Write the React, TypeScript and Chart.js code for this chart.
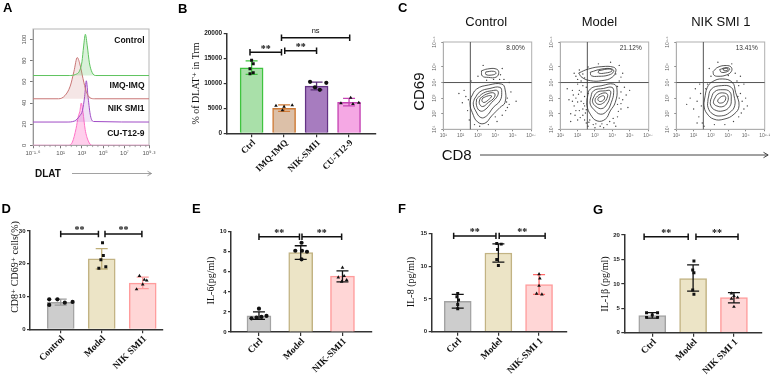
import React, { useEffect, useRef } from 'react';
import { Chart, registerables } from 'chart.js';
Chart.register(...registerables);

const SANS = '"Liberation Sans", Arial, Helvetica, sans-serif';
const SERIF = '"Liberation Serif", "Times New Roman", "DejaVu Serif", serif';
Chart.defaults.font.family = SANS;
Chart.defaults.color = '#222';

// ---------------- Panel A data (DLAT histograms, x in log10 units) ----------------
const aXTicks = [-1.6, 1, 3, 5, 7, 9.3];
const aXLabels = ['10⁻¹·⁶', '10¹', '10³', '10⁵', '10⁷', '10⁹·³'];
const aXMinor = [-1, -0.5, 0, 0.5, 1.5, 2, 2.5, 3.5, 4, 4.5, 5.5, 6, 6.5, 7.5, 8, 8.5, 9];
const aYTicks = [0, 20, 40, 60, 80, 100];
const aNames = ['Control', 'IMQ-IMQ', 'NIK SMI1', 'CU-T12-9'];
const aBaselines = [66, 44, 22, 0];
const aCtrlLog = [-1.6, 1.8, 2.4, 2.8, 3.0, 3.15, 3.32, 3.5, 3.7, 3.95, 4.3, 9.3];
const aCtrlVal = [66, 66, 67, 71, 79, 93, 105, 94, 78, 69, 66, 66];
const aImqLog = [-1.6, 0.8, 1.4, 1.9, 2.25, 2.56, 2.8, 3.1, 3.4, 3.75, 4.2, 9.3];
const aImqVal = [44, 44, 47, 56, 70, 83, 77, 63, 51, 45, 44, 44];
const aNikLog = [-1.6, 1.6, 2.3, 2.8, 3.05, 3.25, 3.41, 3.58, 3.8, 4.1, 9.3];
const aNikVal = [22, 22, 23, 28, 33, 46, 61, 45, 28, 22.5, 22];
const aCuLog = [-1.6, 1.7, 2.1, 2.45, 2.65, 2.8, 2.94, 3.1, 3.3, 3.6, 3.95, 9.3];
const aCuVal = [0, 0, 3, 16, 27, 32, 40, 31, 15, 4, 0, 0];

// ---------------- Panel B data ----------------
const bCategories = ['Ctrl', 'IMQ-IMQ', 'NIK-SMI1', 'CU-T12-9'];
const bMeans = [13100, 5000, 9450, 6200];
const bErrHigh = [14500, 5700, 10250, 7000];
const bErrLow = [11800, 4400, 8700, 5500];
const bPoints = [
  [14600, 13900, 12900, 12100, 11900],
  [5500, 5300, 5600, 4600],
  [10300, 10100, 9200, 8700],
  [7100, 6000, 5850, 6100],
];
const bOffsets = [
  [0, 0.05, -0.05, 0.05, -0.05],
  [-0.25, 0, 0.25, -0.05],
  [-0.2, 0.3, -0.05, 0.1],
  [0.05, -0.25, 0.12, 0.3],
];
const bBrackets: [number, number, number, string][] = [
  [-0.05, 0.92, 16200, '**'],
  [1.02, 2.0, 16500, '**'],
  [0.92, 3.02, 19100, 'ns'],
];

// ---------------- Panel C data (CD8 vs CD69, log10 units) ----------------
const cTitles = ['Control', 'Model', 'NIK SMI 1'];
const cPercents = ['8.00%', '21.12%', '13.41%'];
const cXTicks = [1, 2, 3, 4, 5, 6.1];
const cXLabels = ['10¹', '10²', '10³', '10⁴', '10⁵', '10⁶·¹'];
const cYTicks = [1, 2, 3, 4, 5, 6.6];
const cYLabels = ['10¹', '10²', '10³', '10⁴', '10⁵', '10⁶·⁶'];
const cGateX = 2.56;
const cGateY = 4.0;

const ctrlContours = [
  [[3.2, 4.75], [3.55, 4.87], [4.05, 4.87], [4.2, 4.65], [4.05, 4.35], [3.6, 4.33], [3.25, 4.42]],
  [[3.45, 4.68], [3.9, 4.72], [4.05, 4.6], [3.8, 4.48], [3.45, 4.52]],
  [[2.6, 3.04], [2.92, 3.58], [3.6, 3.84], [4.37, 3.9], [4.56, 3.58], [4.56, 2.72], [4.27, 2.4], [3.79, 1.86], [3.4, 1.39], [2.98, 1.47], [2.67, 2.08], [2.54, 2.61]],
  [[2.79, 2.94], [3.12, 3.41], [3.69, 3.62], [4.27, 3.69], [4.37, 3.37], [4.27, 2.83], [3.88, 2.4], [3.5, 1.86], [3.17, 1.75], [2.87, 2.18], [2.73, 2.61]],
  [[2.92, 2.94], [3.31, 3.32], [3.79, 3.47], [4.13, 3.47], [4.13, 3.15], [3.79, 2.72], [3.4, 2.25], [3.12, 2.18], [2.92, 2.51]],
  [[3.12, 2.98], [3.5, 3.26], [3.94, 3.32], [3.94, 3.04], [3.6, 2.72], [3.27, 2.46], [3.08, 2.66]],
  [[3.27, 3.0], [3.6, 3.15], [3.79, 3.13], [3.6, 2.89], [3.35, 2.72], [3.23, 2.83]],
];
const modelContours = [
  [[2.06, 4.61], [2.63, 4.87], [3.4, 5.02], [4.08, 4.98], [4.21, 4.76], [3.98, 4.33], [3.4, 4.12], [2.73, 4.12], [2.25, 4.33]],
  [[2.73, 4.66], [3.4, 4.87], [3.98, 4.87], [4.08, 4.7], [3.79, 4.48], [3.21, 4.4], [2.79, 4.44]],
  [[3.21, 4.76], [3.88, 4.87], [3.98, 4.74], [3.6, 4.61], [3.21, 4.61]],
  [[2.54, 2.94], [2.73, 3.58], [3.4, 3.8], [4.08, 3.9], [4.27, 3.58], [4.17, 2.72], [3.88, 2.18], [3.6, 1.65], [3.12, 1.54], [2.73, 1.97], [2.54, 2.51]],
  [[2.73, 2.94], [2.92, 3.47], [3.5, 3.62], [3.98, 3.69], [4.08, 3.37], [3.94, 2.72], [3.69, 2.18], [3.31, 1.97], [2.92, 2.29], [2.73, 2.61]],
  [[2.87, 2.94], [3.12, 3.37], [3.6, 3.47], [3.88, 3.47], [3.88, 3.15], [3.69, 2.61], [3.4, 2.33], [3.06, 2.46], [2.87, 2.72]],
  [[3.02, 2.98], [3.31, 3.26], [3.69, 3.3], [3.69, 2.98], [3.44, 2.66], [3.17, 2.61], [3.02, 2.78]],
  [[3.21, 3.04], [3.5, 3.15], [3.54, 2.94], [3.31, 2.78], [3.17, 2.89]],
];
const nikContours = [
  [[3.12, 4.7], [3.4, 4.98], [3.88, 5.09], [4.17, 4.98], [4.17, 4.7], [3.88, 4.48], [3.4, 4.4], [3.17, 4.48]],
  [[3.5, 4.83], [3.88, 4.96], [4.08, 4.87], [3.94, 4.7], [3.6, 4.66]],
  [[3.69, 4.87], [3.94, 4.91], [3.98, 4.81], [3.75, 4.76]],
  [[2.63, 2.94], [2.79, 3.69], [3.08, 4.05], [3.65, 4.23], [4.23, 4.01], [4.42, 3.37], [4.62, 2.51], [4.33, 1.97], [3.75, 1.65], [3.17, 1.65], [2.75, 2.04], [2.6, 2.51]],
  [[2.83, 2.94], [3.02, 3.58], [3.6, 3.8], [4.17, 3.69], [4.33, 3.15], [4.37, 2.51], [4.08, 2.08], [3.6, 1.86], [3.12, 1.97], [2.83, 2.4]],
  [[2.98, 2.89], [3.21, 3.41], [3.69, 3.54], [4.08, 3.41], [4.17, 2.94], [4.08, 2.46], [3.69, 2.18], [3.21, 2.25], [2.98, 2.55]],
  [[3.17, 2.89], [3.4, 3.26], [3.79, 3.32], [3.98, 3.15], [3.94, 2.72], [3.69, 2.46], [3.31, 2.51], [3.15, 2.68]],
  [[3.4, 2.89], [3.6, 3.1], [3.83, 3.1], [3.79, 2.8], [3.54, 2.68], [3.4, 2.76]],
];
const ctrlDots = [[2.3, 3.1], [2.4, 2.2], [2.5, 1.6], [2.2, 3.5], [4.7, 3.0], [4.8, 2.6], [4.6, 2.2], [4.4, 1.9], [4.9, 3.4], [4.5, 4.2], [3.0, 4.4], [4.4, 4.9], [3.1, 1.2], [3.6, 1.3], [4.1, 1.5], [4.0, 1.8], [2.1, 2.7], [4.8, 4.0], [1.9, 3.3], [3.3, 5.1], [5.2, 2.8], [2.6, 4.1], [3.9, 4.2], [4.3, 4.5], [2.8, 1.3], [4.7, 2.4], [4.65, 2.75], [2.45, 2.9], [3.5, 4.15], [4.25, 4.2]];
const modelDots = [[1.6, 2.0], [1.8, 2.5], [1.9, 3.0], [2.0, 1.6], [2.1, 2.2], [2.2, 2.8], [2.2, 3.4], [2.3, 1.9], [2.4, 2.5], [2.4, 3.1], [2.5, 1.4], [2.5, 3.7], [1.7, 3.5], [2.0, 3.9], [1.5, 2.9], [2.6, 1.2], [2.9, 1.3], [3.3, 1.2], [3.7, 1.3], [4.1, 1.4], [4.3, 1.8], [4.5, 2.3], [4.6, 2.9], [4.5, 3.4], [4.7, 3.7], [4.4, 4.1], [4.6, 4.6], [4.4, 5.1], [3.9, 5.3], [3.2, 5.2], [2.6, 5.0], [2.1, 4.8], [1.8, 4.6], [2.4, 4.3], [4.9, 2.4], [4.8, 3.2], [4.2, 1.2], [3.5, 1.1], [2.7, 1.6], [2.3, 2.3], [1.9, 2.2], [2.1, 3.5], [2.6, 3.3], [4.3, 2.6], [4.4, 3.0], [3.0, 1.1], [2.2, 4.1], [1.4, 3.6], [1.6, 1.5], [5.0, 3.5], [2.35, 2.65], [2.15, 1.75], [2.45, 2.05], [2.0, 2.75], [1.75, 3.2], [2.3, 3.8], [2.55, 4.0], [2.4, 1.6], [2.65, 1.45], [3.05, 1.35], [3.4, 1.35], [3.85, 1.5], [4.05, 1.7], [4.35, 2.15], [4.5, 2.65], [4.3, 3.75], [4.5, 4.35], [4.2, 4.55], [1.9, 4.4], [2.3, 4.55], [2.0, 4.2], [1.7, 2.8], [1.85, 1.9], [2.05, 3.25], [2.5, 2.25]];
const nikDots = [[2.0, 2.3], [2.2, 2.8], [2.3, 1.8], [2.4, 3.3], [1.8, 3.0], [2.5, 1.4], [2.1, 3.6], [4.7, 3.3], [4.8, 2.8], [4.9, 2.3], [4.6, 1.8], [4.5, 4.1], [4.6, 3.8], [4.4, 4.6], [4.2, 5.2], [3.0, 4.4], [2.8, 3.9], [3.2, 1.3], [3.8, 1.3], [4.3, 1.5], [5.0, 3.0], [2.6, 1.2], [4.7, 4.4], [3.4, 5.3], [2.9, 4.9], [1.6, 2.6], [2.2, 1.4], [5.1, 2.5], [4.9, 3.9], [2.7, 3.6], [4.75, 2.05], [4.55, 3.1], [2.45, 2.5], [2.35, 3.9], [4.0, 4.45]];

// ---------------- Panels D–G data ----------------
const dCategories = ['Control', 'Model', 'NIK SMI1'];
const dMeans = [8.2, 21.5, 14.1];
const dErrHigh = [9.2, 24.6, 15.9];
const dErrLow = [7.4, 18.4, 12.4];
const dPoints = [[9.16, 9.16, 7.43, 8.14, 8.34], [26.4, 22.5, 21.2, 18.6, 19.1], [16.3, 15.1, 14.9, 13.7, 12.2]];
const dOffsets = [[-0.28, -0.08, -0.28, 0.1, 0.29], [0.02, 0.04, -0.02, -0.07, 0.1], [-0.08, 0.04, 0.1, 0, -0.15]];
const dBrackets: [number, number, number, string][] = [[0, 0.92, 29.1, '**'], [1.08, 1.98, 29.1, '**']];

const eCategories = ['Ctrl', 'Model', 'NIK-SMI1'];
const eMeans = [1.62, 7.93, 5.57];
const eErrHigh = [2.0, 8.6, 6.1];
const eErrLow = [1.25, 7.25, 5.0];
const ePoints = [[2.33, 1.36, 1.43, 1.5, 1.6], [8.9, 8.1, 8.1, 8.0, 7.25], [6.41, 5.58, 5.45, 5.18, 5.02]];
const eOffsets = [[0, -0.18, -0.06, 0.06, 0.18], [0.02, -0.13, 0.03, 0.15, 0.02], [0, 0.04, -0.1, 0.1, -0.02]];
const eBrackets: [number, number, number, string][] = [[0, 0.97, 9.5, '**'], [1.03, 1.98, 9.5, '**']];

const fCategories = ['Ctrl', 'Model', 'NIK-SMI 1'];
const fMeans = [4.62, 12.0, 7.2];
const fErrHigh = [5.7, 13.4, 8.7];
const fErrLow = [3.6, 10.6, 5.7];
const fPoints = [[5.84, 5.33, 4.82, 4.16, 3.5], [13.45, 13.35, 12.54, 11.0, 10.1], [8.78, 8.12, 7.0, 5.79, 5.69]];
const fOffsets = [[0, -0.02, 0.02, 0, 0], [-0.04, 0.07, -0.02, -0.04, 0], [0, 0.02, 0, -0.06, 0.07]];
const fBrackets: [number, number, number, string][] = [[-0.1, 0.94, 14.6, '**'], [1.02, 2.15, 14.6, '**']];

const gCategories = ['Ctrl', 'Model', 'NIK SMI 1'];
const gMeans = [3.48, 11.1, 7.17];
const gErrHigh = [4.1, 13.9, 8.2];
const gErrLow = [3.0, 8.5, 6.1];
const gPoints = [[4.1, 4.1, 3.62, 3.14, 3.14], [14.68, 12.83, 12.29, 8.74, 7.85], [8.05, 7.5, 7.2, 6.96, 5.3]];
const gOffsets = [[-0.14, 0.13, 0, -0.14, 0.13], [0.02, -0.01, 0.02, -0.01, 0.02], [-0.06, 0, 0.09, -0.06, 0]];
const gBrackets: [number, number, number, string][] = [[-0.2, 0.88, 19.65, '**'], [1.07, 2.1, 19.65, '**']];

// ---------------- helpers ----------------
type Box = { left: number; top: number; width: number; height: number };
type Area = { l: number; t: number; r: number; b: number };
type Txt = { text: string; x: number; y: number; font: string; color?: string; align?: CanvasTextAlign; baseline?: CanvasTextBaseline; rotate?: number };

function fit(box: Box, area: Area) {
  return {
    padding: { top: area.t - box.top, right: box.left + box.width - area.r, left: 0, bottom: 0 },
    xAfterFit: (s: any) => { s.height = box.top + box.height - area.b; s.paddingLeft = 0; s.paddingRight = 0; },
    yAfterFit: (s: any) => { s.width = area.l - box.left; s.paddingTop = 0; s.paddingBottom = 0; },
  };
}

function textPlugin(box: Box, items: Txt[]) {
  return {
    id: 'texts',
    afterDraw(chart: any) {
      const ctx = chart.ctx;
      for (const t of items) {
        ctx.save();
        ctx.translate(t.x - box.left, t.y - box.top);
        if (t.rotate) ctx.rotate(t.rotate);
        ctx.font = t.font;
        ctx.fillStyle = t.color || '#111';
        ctx.textAlign = t.align || 'left';
        ctx.textBaseline = t.baseline || 'alphabetic';
        ctx.fillText(t.text, 0, 0);
        ctx.restore();
      }
    },
  };
}

function ChartCanvas({ box, build }: { box: Box; build: () => any }) {
  const ref = useRef<HTMLCanvasElement>(null);
  useEffect(() => {
    const chart = new Chart(ref.current as HTMLCanvasElement, build());
    return () => chart.destroy();
  }, []);
  return (
    <canvas
      ref={ref}
      width={box.width}
      height={box.height}
      style={{ position: 'absolute', left: box.left, top: box.top, width: box.width, height: box.height }}
    />
  );
}

// ---------------- Panel A ----------------
const aBox: Box = { left: 0, top: 20, width: 160, height: 146 };
const aArea: Area = { l: 33, t: 29, r: 149, b: 145.3 };
function buildA() {
  const f = fit(aBox, aArea);
  const series = [
    { x: aCtrlLog, y: aCtrlVal, c: '#5fc45f', fill: 'rgba(95,196,95,0.24)' },
    { x: aImqLog, y: aImqVal, c: '#c97676', fill: 'rgba(201,118,118,0.18)' },
    { x: aNikLog, y: aNikVal, c: '#a04cc6', fill: 'rgba(160,76,198,0.16)' },
    { x: aCuLog, y: aCuVal, c: '#ff72c6', fill: 'rgba(255,114,198,0.34)' },
  ];
  const labelY = [42.5, 87.5, 111.3, 135.7];
  return {
    type: 'line',
    data: {
      datasets: series.map((s, i) => ({
        data: s.x.map((v, k) => ({ x: v, y: s.y[k] })),
        borderColor: s.c,
        backgroundColor: s.fill,
        fill: { value: aBaselines[i] },
        borderWidth: 1,
        pointRadius: 0,
        cubicInterpolationMode: 'monotone',
      })),
    },
    options: {
      responsive: false,
      animation: false,
      layout: { padding: f.padding },
      plugins: { legend: { display: false }, tooltip: { enabled: false } },
      scales: {
        x: {
          type: 'linear', min: -1.6, max: 9.3, afterFit: f.xAfterFit,
          afterBuildTicks: (s: any) => { s.ticks = aXTicks.map((v) => ({ value: v })); },
          ticks: { callback: (_v: any, i: number) => aXLabels[i], autoSkip: false, maxRotation: 0, font: { size: 6 }, color: '#555', padding: 1 },
          grid: { drawOnChartArea: false, tickLength: 3, color: '#777' },
          border: { color: '#777' },
        },
        y: {
          type: 'linear', min: 0, max: 110, afterFit: f.yAfterFit,
          afterBuildTicks: (s: any) => { s.ticks = aYTicks.map((v) => ({ value: v })); },
          ticks: { minRotation: 90, maxRotation: 90, crossAlign: 'center', font: { size: 6 }, color: '#555', padding: 1 },
          grid: { drawOnChartArea: false, tickLength: 3, color: '#777' },
          border: { color: '#777' },
        },
      },
    },
    plugins: [
      {
        id: 'frameA',
        beforeDatasetsDraw(chart: any) {
          const { ctx, chartArea: a } = chart;
          ctx.save();
          ctx.strokeStyle = '#b5b5b5';
          ctx.lineWidth = 1;
          ctx.strokeRect(a.left, a.top, a.right - a.left, a.bottom - a.top);
          ctx.restore();
        },
        afterDraw(chart: any) {
          const { ctx, chartArea: a, scales: { x } } = chart;
          ctx.save();
          ctx.strokeStyle = '#888';
          ctx.lineWidth = 0.7;
          ctx.beginPath();
          for (const v of aXMinor) {
            const px = x.getPixelForValue(v);
            ctx.moveTo(px, a.bottom);
            ctx.lineTo(px, a.bottom + 1.8);
          }
          ctx.stroke();
          ctx.restore();
        },
      },
      textPlugin(aBox, aNames.map((n, i) => ({ text: n, x: 144.5, y: labelY[i], font: `bold 8.5px ${SANS}`, align: 'right' as CanvasTextAlign, color: '#111' }))),
    ],
  };
}

// ---------------- Bar charts (B, D, E, F, G) ----------------
type BarSpec = {
  box: Box; area: Area; cats: string[]; means: number[]; hi: number[]; lo: number[];
  points: number[][]; offsets: number[][]; xMin: number; xMax: number; yMax: number; yStep: number;
  fills: string[]; borders: string[]; errColors: string[]; markers: string[]; barWidth: number;
  brackets: [number, number, number, string][]; title: string; titleX: number; titleY: number;
  labelSize: number; tickSize: number;
};

function buildBar(o: BarSpec) {
  const f = fit(o.box, o.area);
  const AX = '#333';
  const datasets: any[] = [
    {
      type: 'bar',
      data: o.means.map((m, i) => ({ x: i, y: m })),
      backgroundColor: o.fills,
      borderColor: o.borders,
      borderWidth: 1.5,
      barThickness: o.barWidth,
      order: 10,
    },
  ];
  o.points.forEach((vals, g) => {
    datasets.push({
      type: 'scatter',
      data: vals.map((v, k) => ({ x: g + o.offsets[g][k], y: v })),
      pointStyle: o.markers[g],
      pointRadius: 2.1,
      backgroundColor: '#111',
      borderColor: '#111',
      borderWidth: 0,
      order: 0,
    });
  });
  const stats = {
    id: 'stats',
    afterDatasetDraw(chart: any, args: any) {
      if (args.index !== 0) return;
      const { ctx, scales: { x, y } } = chart;
      ctx.save();
      ctx.lineWidth = 1.3;
      o.means.forEach((_m, i) => {
        const px = x.getPixelForValue(i);
        const y1 = y.getPixelForValue(o.hi[i]);
        const y2 = y.getPixelForValue(o.lo[i]);
        const cw = 6;
        ctx.strokeStyle = o.errColors[i];
        ctx.beginPath();
        ctx.moveTo(px, y1); ctx.lineTo(px, y2);
        ctx.moveTo(px - cw, y1); ctx.lineTo(px + cw, y1);
        ctx.moveTo(px - cw, y2); ctx.lineTo(px + cw, y2);
        ctx.stroke();
      });
      ctx.restore();
    },
    afterDraw(chart: any) {
      const { ctx, scales: { x, y }, chartArea } = chart;
      ctx.save();
      for (const [a, b, v, lab] of o.brackets) {
        const x1 = x.getPixelForValue(a);
        const x2 = x.getPixelForValue(b);
        const py = y.getPixelForValue(v);
        ctx.strokeStyle = '#111';
        ctx.lineWidth = 1.5;
        ctx.beginPath();
        ctx.moveTo(x1, py); ctx.lineTo(x2, py);
        ctx.moveTo(x1, py - 3.2); ctx.lineTo(x1, py + 3.2);
        ctx.moveTo(x2, py - 3.2); ctx.lineTo(x2, py + 3.2);
        ctx.stroke();
        ctx.fillStyle = '#111';
        ctx.textAlign = 'center';
        ctx.textBaseline = 'alphabetic';
        if (lab === 'ns') {
          ctx.font = `7.5px ${SANS}`;
          ctx.fillText(lab, (x1 + x2) / 2, py - 5);
        } else {
          ctx.font = `bold 10px ${SERIF}`;
          ctx.fillText(lab, (x1 + x2) / 2, py - 0.5);
        }
      }
      o.cats.forEach((c, i) => {
        const px = x.getPixelForValue(i);
        ctx.save();
        ctx.translate(px + 2.5, chartArea.bottom + 8);
        ctx.rotate(-Math.PI / 4);
        ctx.font = `bold ${o.labelSize}px ${SERIF}`;
        ctx.fillStyle = '#111';
        ctx.textAlign = 'right';
        ctx.textBaseline = 'middle';
        ctx.fillText(c, 0, 0);
        ctx.restore();
      });
      ctx.restore();
    },
  };
  return {
    type: 'bar',
    data: { datasets },
    options: {
      responsive: false,
      animation: false,
      layout: { padding: f.padding },
      plugins: { legend: { display: false }, tooltip: { enabled: false } },
      scales: {
        x: {
          type: 'linear', min: o.xMin, max: o.xMax, afterFit: f.xAfterFit, offset: false,
          afterBuildTicks: (s: any) => { s.ticks = o.cats.map((_c, i) => ({ value: i })); },
          ticks: { display: false },
          grid: { drawOnChartArea: false, offset: false, tickLength: 4, color: AX, lineWidth: 1.2 },
          border: { color: AX, width: 1.5 },
        },
        y: {
          type: 'linear', min: 0, max: o.yMax, afterFit: f.yAfterFit,
          ticks: { stepSize: o.yStep, callback: (v: any) => String(v), font: { size: o.tickSize, weight: 'bold' }, color: '#222', padding: 1.5 },
          grid: { drawOnChartArea: false, tickLength: 3, color: AX, lineWidth: 1.2 },
          border: { color: AX, width: 1.5 },
        },
      },
    },
    plugins: [
      stats,
      textPlugin(o.box, [{ text: o.title, x: o.titleX, y: o.titleY, font: `10px ${SERIF}`, align: 'center', baseline: 'middle', rotate: -Math.PI / 2, color: '#111' }]),
    ],
  };
}

const grayFill = ['#cdcdcd', '#ece4c6', '#ffd6d6'];
const grayBorder = ['#a3a3a3', '#c2b383', '#ff9c9c'];

const bBox: Box = { left: 185, top: 20, width: 195, height: 170 };
const dBox: Box = { left: 0, top: 215, width: 190, height: 161 };
const eBox: Box = { left: 192, top: 215, width: 190, height: 161 };
const fBox: Box = { left: 385, top: 215, width: 190, height: 161 };
const gBox: Box = { left: 578, top: 215, width: 192, height: 161 };

const specB: BarSpec = {
  box: bBox, area: { l: 226.7, t: 33.3, r: 376.7, b: 133.3 }, cats: bCategories, means: bMeans, hi: bErrHigh, lo: bErrLow,
  points: bPoints, offsets: bOffsets, xMin: -0.767, xMax: 3.83, yMax: 20000, yStep: 5000,
  fills: ['#a9e0a9', '#dcc0a8', '#a77cbf', '#f5a8e4'], borders: ['#3fc43f', '#cf7a35', '#643385', '#c544b4'],
  errColors: ['#3fc43f', '#cf7a35', '#5a2c78', '#c544b4'], markers: ['rect', 'triangle', 'circle', 'triangle'], barWidth: 23,
  brackets: bBrackets, title: '% of DLAT⁺ in Trm', titleX: 196, titleY: 83.5, labelSize: 9, tickSize: 6.5,
};
const specD: BarSpec = {
  box: dBox, area: { l: 30, t: 231, r: 163, b: 329.3 }, cats: dCategories, means: dMeans, hi: dErrHigh, lo: dErrLow,
  points: dPoints, offsets: dOffsets, xMin: -0.749, xMax: 2.495, yMax: 30, yStep: 10,
  fills: grayFill, borders: grayBorder, errColors: ['#9a9a9a', '#bfae78', '#ff9a9a'], markers: ['circle', 'rect', 'triangle'], barWidth: 27,
  brackets: dBrackets, title: 'CD8⁺ CD69⁺ cells(%)', titleX: 15, titleY: 267, labelSize: 9.5, tickSize: 6,
};
const specE: BarSpec = {
  box: eBox, area: { l: 231, t: 231.7, r: 371.7, b: 332 }, cats: eCategories, means: eMeans, hi: eErrHigh, lo: eErrLow,
  points: ePoints, offsets: eOffsets, xMin: -0.67, xMax: 2.7, yMax: 10, yStep: 2,
  fills: grayFill, borders: grayBorder, errColors: ['#111', '#111', '#111'], markers: ['circle', 'circle', 'triangle'], barWidth: 24,
  brackets: eBrackets, title: 'IL-6(pg/ml)', titleX: 211.7, titleY: 280.5, labelSize: 9.5, tickSize: 6,
};
const specF: BarSpec = {
  box: fBox, area: { l: 431.7, t: 233.3, r: 566.7, b: 331.7 }, cats: fCategories, means: fMeans, hi: fErrHigh, lo: fErrLow,
  points: fPoints, offsets: fOffsets, xMin: -0.64, xMax: 2.68, yMax: 15, yStep: 5,
  fills: grayFill, borders: grayBorder, errColors: ['#111', '#111', '#ff6a6a'], markers: ['rect', 'rect', 'triangle'], barWidth: 27,
  brackets: fBrackets, title: 'IL-8 (pg/ml)', titleX: 411.7, titleY: 282, labelSize: 9.5, tickSize: 6,
};
const specG: BarSpec = {
  box: gBox, area: { l: 624.3, t: 235, r: 761.7, b: 332.7 }, cats: gCategories, means: gMeans, hi: gErrHigh, lo: gErrLow,
  points: gPoints, offsets: gOffsets, xMin: -0.685, xMax: 2.68, yMax: 20, yStep: 5,
  fills: grayFill, borders: grayBorder, errColors: ['#111', '#111', '#111'], markers: ['rect', 'rect', 'triangle'], barWidth: 27,
  brackets: gBrackets, title: 'IL-1β (pg/ml)', titleX: 605.5, titleY: 284, labelSize: 9.5, tickSize: 6,
};

// ---------------- Panel C (contour plots) ----------------
const cBoxes: Box[] = [
  { left: 430, top: 30, width: 106, height: 110 },
  { left: 547, top: 30, width: 106, height: 110 },
  { left: 663, top: 30, width: 107, height: 110 },
];
const cAreas: Area[] = [
  { l: 443.3, t: 42, r: 531.7, b: 129.3 },
  { l: 560.3, t: 42, r: 648.7, b: 129.3 },
  { l: 676.3, t: 42, r: 764.7, b: 129.3 },
];
const cContours = [ctrlContours, modelContours, nikContours];
const cDots = [ctrlDots, modelDots, nikDots];

function buildC(i: number) {
  const box = cBoxes[i];
  const area = cAreas[i];
  const f = fit(box, area);
  const datasets: any[] = cContours[i].map((poly) => {
    const closed = [...poly, poly[0]];
    return {
      type: 'scatter',
      showLine: true,
      data: closed.map(([x, y]) => ({ x, y })),
      borderColor: '#2b2b2b',
      borderWidth: 0.8,
      tension: 0.45,
      pointRadius: 0,
      fill: false,
    };
  });
  datasets.push({
    type: 'scatter',
    data: cDots[i].map(([x, y]) => ({ x, y })),
    pointRadius: 0.7,
    backgroundColor: '#444',
    borderWidth: 0,
  });
  return {
    type: 'scatter',
    data: { datasets },
    options: {
      responsive: false,
      animation: false,
      layout: { padding: f.padding },
      plugins: { legend: { display: false }, tooltip: { enabled: false } },
      scales: {
        x: {
          type: 'linear', min: 1, max: 6.1, afterFit: f.xAfterFit,
          afterBuildTicks: (s: any) => { s.ticks = cXTicks.map((v) => ({ value: v })); },
          ticks: { callback: (_v: any, k: number) => cXLabels[k], autoSkip: false, maxRotation: 0, font: { size: 5 }, color: '#666', padding: 1 },
          grid: { drawOnChartArea: false, tickLength: 2, color: '#888' },
          border: { color: '#aaa' },
        },
        y: {
          type: 'linear', min: 1, max: 6.6, afterFit: f.yAfterFit,
          afterBuildTicks: (s: any) => { s.ticks = cYTicks.map((v) => ({ value: v })); },
          ticks: { callback: (_v: any, k: number) => cYLabels[k], autoSkip: false, minRotation: 90, maxRotation: 90, crossAlign: 'center', font: { size: 5 }, color: '#666', padding: 1 },
          grid: { drawOnChartArea: false, tickLength: 2, color: '#888' },
          border: { color: '#aaa' },
        },
      },
    },
    plugins: [
      {
        id: 'gate',
        beforeDatasetsDraw(chart: any) {
          const { ctx, chartArea: a, scales: { x, y } } = chart;
          ctx.save();
          ctx.strokeStyle = '#b0b0b0';
          ctx.lineWidth = 1;
          ctx.strokeRect(a.left, a.top, a.right - a.left, a.bottom - a.top);
          const gx = x.getPixelForValue(cGateX);
          const gy = y.getPixelForValue(cGateY);
          ctx.strokeStyle = '#555';
          ctx.beginPath();
          ctx.moveTo(gx, a.top); ctx.lineTo(gx, a.bottom);
          ctx.moveTo(a.left, gy); ctx.lineTo(a.right, gy);
          ctx.stroke();
          ctx.restore();
        },
      },
      textPlugin(box, [{ text: cPercents[i], x: area.r - 7, y: 50, font: `6.5px ${SANS}`, align: 'right', color: '#333' }]),
    ],
  };
}

// ---------------- App ----------------
export default function App() {
  const letter = { fontFamily: SANS, fontWeight: 'bold' as const, fontSize: 13, fill: '#000' };
  return (
    <div style={{ position: 'absolute', left: 0, top: 0, width: 770, height: 376, background: '#fff', overflow: 'hidden' }}>
      <ChartCanvas box={aBox} build={buildA} />
      <ChartCanvas box={bBox} build={() => buildBar(specB)} />
      {[0, 1, 2].map((i) => (
        <ChartCanvas key={i} box={cBoxes[i]} build={() => buildC(i)} />
      ))}
      <ChartCanvas box={dBox} build={() => buildBar(specD)} />
      <ChartCanvas box={eBox} build={() => buildBar(specE)} />
      <ChartCanvas box={fBox} build={() => buildBar(specF)} />
      <ChartCanvas box={gBox} build={() => buildBar(specG)} />
      <svg width={770} height={376} style={{ position: 'absolute', left: 0, top: 0, pointerEvents: 'none' }}>
        <text x={3} y={11.7} style={letter}>A</text>
        <text x={178} y={13.3} style={letter}>B</text>
        <text x={398} y={11.7} style={letter}>C</text>
        <text x={1.5} y={212.7} style={letter}>D</text>
        <text x={192} y={212.7} style={letter}>E</text>
        <text x={398} y={213.3} style={letter}>F</text>
        <text x={593} y={214} style={letter}>G</text>

        <text x={35} y={177} style={{ fontFamily: SANS, fontWeight: 'bold', fontSize: 10, fill: '#111' }}>DLAT</text>
        <line x1={72} y1={173.5} x2={151.5} y2={173.5} stroke="#8a8a8a" strokeWidth={0.8} />
        <polyline points="147.5,171.2 151.5,173.5 147.5,175.8" fill="none" stroke="#8a8a8a" strokeWidth={0.8} />

        {cTitles.map((t, i) => (
          <text key={t} x={[486.3, 599.5, 720.8][i]} y={26} textAnchor="middle" style={{ fontFamily: SANS, fontSize: 13, fill: '#111' }}>{t}</text>
        ))}
        <text x={0} y={0} textAnchor="middle" transform="translate(424,91.7) rotate(-90)" style={{ fontFamily: SANS, fontSize: 15, fill: '#111' }}>CD69</text>
        <text x={441.7} y={160} style={{ fontFamily: SANS, fontSize: 15, fill: '#111' }}>CD8</text>
        <line x1={480} y1={155} x2={768} y2={155} stroke="#444" strokeWidth={1} />
        <polyline points="763.5,152.3 768.2,155 763.5,157.7" fill="none" stroke="#444" strokeWidth={1} />
      </svg>
    </div>
  );
}
